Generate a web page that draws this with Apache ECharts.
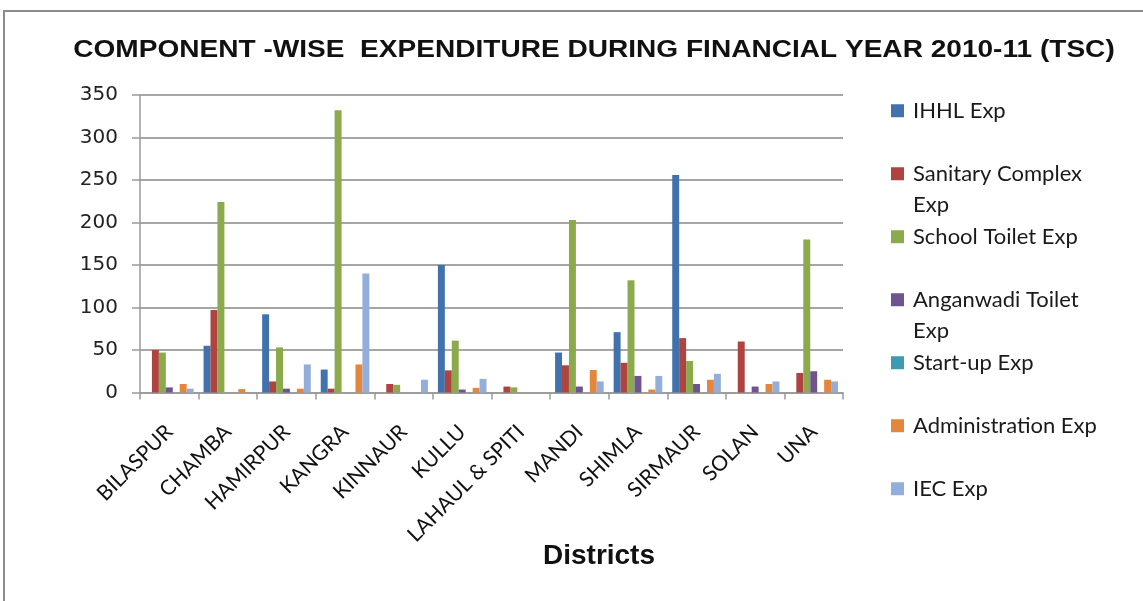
<!DOCTYPE html>
<html>
<head>
<meta charset="utf-8">
<style>
  html, body { margin: 0; padding: 0; background: #fff; }
  #chart { width: 1143px; height: 601px; }
</style>
<script src="https://cdn.jsdelivr.net/npm/echarts@6/dist/echarts.min.js"></script>
</head>
<body>
<div id="chart"></div>
<script>
// District-wise component expenditure, TSC 2010-11
const districts = ['BILASPUR', 'CHAMBA', 'HAMIRPUR', 'KANGRA', 'KINNAUR', 'KULLU',
  'LAHAUL & SPITI', 'MANDI', 'SHIMLA', 'SIRMAUR', 'SOLAN', 'UNA'];

const ihhlExp            = [0, 55, 92, 27, 0, 150, 0, 47, 71, 256, 0, 0];
const sanitaryComplexExp = [50, 97, 13, 4.5, 10, 26, 7, 32, 35, 64, 60, 23];
const schoolToiletExp    = [47, 224, 53, 332, 9, 61, 6, 203, 132, 37, 0, 180];
const anganwadiToiletExp = [6, 0, 4.5, 0, 0, 3.5, 0, 7, 19.5, 10, 7, 25];
const startupExp         = [0, 0, 0, 0, 0, 0, 0, 0, 0, 0, 0, 0];
const administrationExp  = [10, 4, 4.5, 33, 0, 5.5, 0, 26.5, 3.5, 15, 10, 15];
const iecExp             = [4.5, 0, 33, 140, 15, 16, 0, 13, 19.5, 22, 13, 13];

const seriesNames = ['IHHL Exp', 'Sanitary Complex Exp', 'School Toilet Exp',
  'Anganwadi Toilet Exp', 'Start-up Exp', 'Administration Exp', 'IEC Exp'];
const seriesData = [ihhlExp, sanitaryComplexExp, schoolToiletExp,
  anganwadiToiletExp, startupExp, administrationExp, iecExp];
const seriesColors = ['#4272AE', '#AE433F', '#8BAA4B', '#6E5590', '#3C9BB1', '#E4873D', '#93AEDA'];

const chartTitle = 'COMPONENT -WISE  EXPENDITURE DURING FINANCIAL YEAR 2010-11 (TSC)';
const xAxisTitle = 'Districts';

// legend entries laid out on two text lines each
const legendLabels = {
  'Sanitary Complex Exp': 'Sanitary Complex\nExp',
  'Anganwadi Toilet Exp': 'Anganwadi Toilet\nExp'
};
// square on the first of two lines, with a little room before the text
const legendIcon = 'path://M0,0h0.01M0,9.2h13v13h-13zM17,63h0.01';

const chart = echarts.init(document.getElementById('chart'), null, { renderer: 'canvas' });

chart.setOption({
  backgroundColor: '#ffffff',
  animation: false,
  graphic: [
    {
      type: 'rect', silent: true, z: -1,
      shape: { x: 4, y: 11, width: 1160, height: 620 },
      style: { fill: 'none', stroke: '#8c8c8c', lineWidth: 2 }
    },
    {
      type: 'text', silent: true,
      x: 594, y: 51, scaleX: 1.22,
      style: {
        text: chartTitle, align: 'center', verticalAlign: 'middle',
        font: 'bold 23px "Liberation Sans", Arial, sans-serif', fill: '#111'
      }
    },
    {
      type: 'text', silent: true,
      x: 599, y: 556,
      style: {
        text: xAxisTitle, align: 'center', verticalAlign: 'middle',
        font: 'bold 28px "Liberation Sans", Arial, sans-serif', fill: '#111'
      }
    }
  ],
  legend: {
    orient: 'vertical',
    left: 891, top: 95, padding: 0,
    itemWidth: 17, itemHeight: 63, itemGap: 0,
    icon: legendIcon,
    data: seriesNames,
    formatter: name => legendLabels[name] || (name + '\n '),
    textStyle: { fontFamily: 'Lato', fontSize: 22, lineHeight: 31.5, color: '#1a1a1a' }
  },
  grid: { left: 140, right: 300, top: 95, bottom: 208.5, containLabel: false },
  xAxis: {
    type: 'category',
    data: districts,
    axisLine: { show: true, lineStyle: { color: '#9a9a9a', width: 1.5 } },
    axisTick: { show: true, length: 7, lineStyle: { color: '#9a9a9a', width: 1.5 } },
    axisLabel: {
      interval: 0, rotate: 45, margin: 36,
      fontFamily: 'Lato', fontSize: 21, color: '#111'
    }
  },
  yAxis: {
    type: 'value',
    min: 0, max: 350, interval: 50,
    axisLine: { show: true, lineStyle: { color: '#9a9a9a', width: 1.5 } },
    axisTick: { show: true, length: 8, lineStyle: { color: '#9a9a9a', width: 1.5 } },
    axisLabel: { margin: 22, fontFamily: 'DejaVu Sans', fontSize: 20, color: '#222' },
    splitLine: { show: true, lineStyle: { color: '#a6a6a6', width: 2 } }
  },
  series: seriesNames.map((name, i) => ({
    name: name,
    type: 'bar',
    data: seriesData[i],
    barGap: '0%',
    barCategoryGap: '17%',
    itemStyle: { color: seriesColors[i] }
  }))
});
</script>
</body>
</html>
